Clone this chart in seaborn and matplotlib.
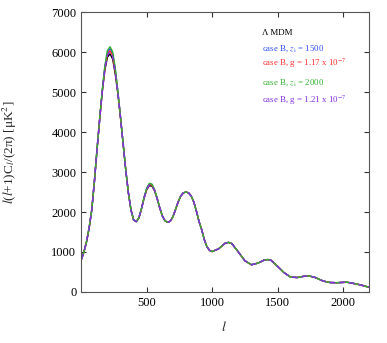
import numpy as np
import pandas as pd
import matplotlib
matplotlib.use('Agg')
import matplotlib.pyplot as plt
import seaborn as sns


# multipoles
ell = [2, 20, 40, 60, 80, 100, 120, 140, 160, 180, 200, 220, 240, 260, 280, 300,
       320, 340, 360, 380, 400, 420, 440, 460, 480, 500, 520, 540, 560, 580, 600,
       620, 640, 660, 680, 700, 720, 740, 760, 780, 800, 820, 840, 860, 880, 900,
       920, 940, 960, 980, 1000, 1050, 1100, 1125, 1150, 1200, 1250, 1300, 1350,
       1400, 1425, 1450, 1500, 1550, 1600, 1650, 1700, 1736, 1780, 1850, 1900,
       1950, 2030, 2100, 2150, 2200]

# D_l for the reference model
dl_lmdm = [820, 1000, 1250, 1600, 2050, 2750, 3550, 4300, 5000, 5550, 5880, 5960,
           5830, 5450, 4950, 4350, 3700, 3050, 2480, 2050, 1800, 1760, 1850, 2080,
           2350, 2560, 2660, 2650, 2530, 2330, 2100, 1900, 1780, 1740, 1770, 1880,
           2060, 2250, 2400, 2480, 2500, 2480, 2400, 2250, 2020, 1760, 1560, 1310,
           1130, 1040, 1010, 1080, 1220, 1240, 1210, 1000, 780, 680, 720, 800, 810,
           790, 640, 480, 370, 360, 390, 400, 370, 270, 235, 230, 242, 200, 160, 115]

dl_z1500 = [820, 1000, 1250, 1600, 2050, 2750, 3550, 4300, 5020, 5620, 6000, 6090,
            5960, 5560, 5000, 4370, 3700, 3050, 2480, 2050, 1800, 1760, 1850, 2080,
            2360, 2590, 2700, 2690, 2550, 2340, 2100, 1900, 1780, 1740, 1770, 1880,
            2060, 2250, 2400, 2480, 2500, 2480, 2400, 2250, 2020, 1760, 1560, 1310,
            1130, 1040, 1010, 1080, 1220, 1240, 1210, 1000, 780, 680, 720, 800, 810,
            790, 640, 480, 370, 360, 390, 400, 370, 270, 235, 230, 242, 200, 160, 115]

dl_g117 = [820, 1000, 1250, 1600, 2050, 2750, 3550, 4300, 5010, 5600, 5950, 6040,
           5910, 5520, 4980, 4360, 3700, 3050, 2480, 2050, 1800, 1760, 1850, 2080,
           2360, 2580, 2690, 2680, 2540, 2340, 2100, 1900, 1780, 1740, 1770, 1880,
           2060, 2250, 2400, 2480, 2500, 2480, 2400, 2250, 2020, 1760, 1560, 1310,
           1130, 1040, 1010, 1080, 1220, 1240, 1210, 1000, 780, 680, 720, 800, 810,
           790, 640, 480, 370, 360, 390, 400, 370, 270, 235, 230, 242, 200, 160, 115]

dl_z2000 = [820, 1000, 1250, 1600, 2050, 2750, 3560, 4320, 5050, 5660, 6050, 6140,
            6010, 5600, 5020, 4380, 3710, 3050, 2480, 2050, 1800, 1760, 1850, 2090,
            2370, 2600, 2720, 2700, 2560, 2350, 2100, 1900, 1780, 1740, 1770, 1880,
            2060, 2250, 2400, 2480, 2500, 2480, 2400, 2250, 2020, 1760, 1560, 1310,
            1130, 1040, 1010, 1080, 1220, 1240, 1210, 1000, 780, 680, 720, 800, 810,
            790, 640, 480, 370, 360, 390, 400, 370, 270, 235, 230, 242, 200, 160, 115]

dl_g121 = [820, 1000, 1250, 1600, 2050, 2750, 3550, 4300, 5000, 5580, 5930, 6010,
           5890, 5500, 4970, 4360, 3700, 3050, 2480, 2050, 1800, 1760, 1850, 2080,
           2350, 2570, 2680, 2670, 2540, 2330, 2100, 1900, 1780, 1740, 1770, 1880,
           2060, 2250, 2400, 2480, 2500, 2480, 2400, 2250, 2020, 1760, 1560, 1310,
           1130, 1040, 1010, 1080, 1220, 1240, 1210, 1000, 780, 680, 720, 800, 810,
           790, 640, 480, 370, 360, 390, 400, 370, 270, 235, 230, 242, 200, 160, 115]

labels = ['Λ MDM',
          'case B, $z_{\\mathrm{i}}$ = 1500',
          'case B, g = 1.17 x 10$^{-7}$',
          'case B, $z_{\\mathrm{i}}$ = 2000',
          'case B, g = 1.21 x 10$^{-7}$']
colors = ['black', '#3050ff', '#ff3030', '#30b030', '#8030e0']
styles = ['-', '-', '-', '-', (0, (4, 3))]
series = [dl_lmdm, dl_z1500, dl_g117, dl_z2000, dl_g121]


sns.set_theme(style='ticks')
plt.rcParams['font.family'] = ['Liberation Serif', 'DejaVu Serif']
plt.rcParams['mathtext.fontset'] = 'stix'

fig = plt.figure(figsize=(3.87, 3.43), dpi=100)
ax = fig.add_axes([0.21, 0.149, 0.744, 0.815])

for lab, col, ls, dl in zip(labels, colors, styles, series):
    sns.lineplot(x=ell, y=dl, ax=ax, color=col, linestyle=ls, lw=1.0, label=lab)

ax.set_xlim(0, 2200)
ax.set_ylim(0, 7000)
ax.set_xticks([500, 1000, 1500, 2000])
ax.set_yticks(range(0, 7001, 1000))
ax.tick_params(direction='in', length=3.5, width=0.8, labelsize=9,
               top=True, right=True, colors='#333333', labelcolor='black')
for sp in ax.spines.values():
    sp.set_color('#555555')
    sp.set_linewidth(0.8)

ax.set_xlabel('$l$', fontsize=10)
ax.set_ylabel('$l$($l$+1)C$_l$/(2π) [μK$^2$]', fontsize=9.5)
ax.xaxis.set_label_coords(0.495, -0.1)
ax.yaxis.set_label_coords(-0.215, 0.5)

# legend as coloured text only
ax.get_legend().remove()
ypos = [0.926, 0.869, 0.819, 0.747, 0.686]
for lab, col, yy in zip(labels, colors, ypos):
    ax.text(0.627, yy, lab, color=col, fontsize=6.4, transform=ax.transAxes,
            ha='left', va='center')

fig.savefig('out.png', dpi=100)
